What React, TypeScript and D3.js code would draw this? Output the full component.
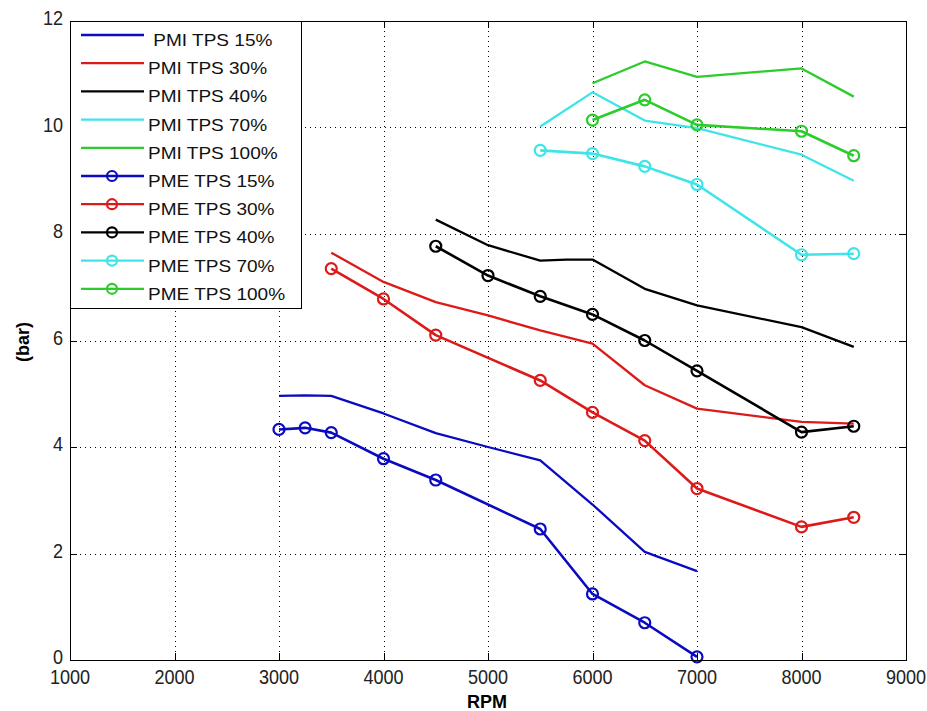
import { useEffect, useRef } from 'react';
import * as d3 from 'd3';

const W = 927;
const H = 711;

// PMI (indicated) curves, plain lines
const pmiRpm15 = [3000, 3250, 3500, 4000, 4500, 5000, 5500, 6000, 6500, 7000];
const pmi15 = [4.96, 4.97, 4.96, 4.63, 4.26, 4.0, 3.75, 2.92, 2.03, 1.67];
const pmiRpm30 = [3500, 4000, 4500, 5000, 5500, 6000, 6500, 7000, 8000, 8500];
const pmi30 = [7.65, 7.1, 6.72, 6.47, 6.19, 5.94, 5.16, 4.72, 4.47, 4.44];
const pmiRpm40 = [4500, 5000, 5500, 5750, 6000, 6500, 7000, 8000, 8500];
const pmi40 = [8.27, 7.79, 7.5, 7.52, 7.52, 6.97, 6.66, 6.25, 5.88];
const pmiRpm70 = [5500, 6000, 6500, 7000, 8000, 8500];
const pmi70 = [10.02, 10.66, 10.13, 9.99, 9.49, 9.0];
const pmiRpm100 = [6000, 6500, 7000, 8000, 8500];
const pmi100 = [10.83, 11.24, 10.95, 11.11, 10.58];

// PME (effective) curves, with circle markers
const pmeRpm15 = [3000, 3250, 3500, 4000, 4500, 5500, 6000, 6500, 7000];
const pme15 = [4.33, 4.36, 4.27, 3.78, 3.38, 2.46, 1.24, 0.7, 0.06];
const pmeRpm30 = [3500, 4000, 4500, 5500, 6000, 6500, 7000, 8000, 8500];
const pme30 = [7.35, 6.78, 6.1, 5.25, 4.65, 4.12, 3.22, 2.5, 2.68];
const pmeRpm40 = [4500, 5000, 5500, 6000, 6500, 7000, 8000, 8500];
const pme40 = [7.77, 7.22, 6.83, 6.49, 6.0, 5.43, 4.28, 4.39];
const pmeRpm70 = [5500, 6000, 6500, 7000, 8000, 8500];
const pme70 = [9.57, 9.51, 9.27, 8.93, 7.61, 7.63];
const pmeRpm100 = [6000, 6500, 7000, 8000, 8500];
const pme100 = [10.14, 10.52, 10.05, 9.93, 9.47];

const xTicks = [1000, 2000, 3000, 4000, 5000, 6000, 7000, 8000, 9000];
const yTicks = [0, 2, 4, 6, 8, 10, 12];

const colors = {
  blue: '#0a0ac0',
  red: '#dd1a1a',
  black: '#000000',
  cyan: '#3ee4e8',
  green: '#2ccc2c',
};

interface Series {
  name: string;
  rpm: number[];
  val: number[];
  color: string;
  marker: boolean;
}

const series: Series[] = [
  { name: ' PMI TPS 15%', rpm: pmiRpm15, val: pmi15, color: colors.blue, marker: false },
  { name: 'PMI TPS 30%', rpm: pmiRpm30, val: pmi30, color: colors.red, marker: false },
  { name: 'PMI TPS 40%', rpm: pmiRpm40, val: pmi40, color: colors.black, marker: false },
  { name: 'PMI TPS 70%', rpm: pmiRpm70, val: pmi70, color: colors.cyan, marker: false },
  { name: 'PMI TPS 100%', rpm: pmiRpm100, val: pmi100, color: colors.green, marker: false },
  { name: 'PME TPS 15%', rpm: pmeRpm15, val: pme15, color: colors.blue, marker: true },
  { name: 'PME TPS 30%', rpm: pmeRpm30, val: pme30, color: colors.red, marker: true },
  { name: 'PME TPS 40%', rpm: pmeRpm40, val: pme40, color: colors.black, marker: true },
  { name: 'PME TPS 70%', rpm: pmeRpm70, val: pme70, color: colors.cyan, marker: true },
  { name: 'PME TPS 100%', rpm: pmeRpm100, val: pme100, color: colors.green, marker: true },
];

const font = '"Liberation Sans", Arial, sans-serif';

export default function App() {
  const svgRef = useRef<SVGSVGElement>(null);

  useEffect(() => {
    if (!svgRef.current) return;
    const svg = d3.select(svgRef.current);
    svg.selectAll('*').remove();

    const left = 70, right = 906, top = 21, bottom = 660;

    const x = d3.scaleLinear().domain([1000, 9000]).range([left, right]);
    const y = d3.scaleLinear().domain([0, 12]).range([bottom, top]);

    svg.append('rect').attr('width', W).attr('height', H).attr('fill', '#fff');

    // grid
    const grid = svg.append('g').attr('stroke', '#000').attr('stroke-width', 1)
      .attr('stroke-dasharray', '1,4').attr('shape-rendering', 'crispEdges');
    xTicks.slice(1, -1).forEach(t => {
      grid.append('line').attr('x1', Math.round(x(t)) + 0.5).attr('x2', Math.round(x(t)) + 0.5)
        .attr('y1', top).attr('y2', bottom);
    });
    yTicks.slice(1, -1).forEach(t => {
      grid.append('line').attr('y1', Math.round(y(t)) + 0.5).attr('y2', Math.round(y(t)) + 0.5)
        .attr('x1', left).attr('x2', right);
    });

    // lines
    const line = d3.line<[number, number]>().x(d => x(d[0])).y(d => y(d[1]));
    const plot = svg.append('g');
    series.forEach(s => {
      const pts: [number, number][] = s.rpm.map((r, i) => [r, s.val[i]]);
      plot.append('path')
        .attr('d', line(pts) as string)
        .attr('fill', 'none')
        .attr('stroke', s.color)
        .attr('stroke-width', s.marker ? 2.6 : 2.3)
        .attr('stroke-linejoin', 'round');
      if (s.marker) {
        plot.selectAll(null)
          .data(pts)
          .join('circle')
          .attr('cx', d => x(d[0]))
          .attr('cy', d => y(d[1]))
          .attr('r', 5.5)
          .attr('fill', 'none')
          .attr('stroke', s.color)
          .attr('stroke-width', 2.2);
      }
    });

    // axes box
    const box = svg.append('g').attr('shape-rendering', 'crispEdges');
    box.append('rect')
      .attr('x', left + 0.5).attr('y', top + 0.5)
      .attr('width', right - left).attr('height', bottom - top)
      .attr('fill', 'none').attr('stroke', '#000').attr('stroke-width', 1.5);

    // tick marks
    xTicks.forEach(t => {
      const px = Math.round(x(t)) + 0.5;
      box.append('line').attr('x1', px).attr('x2', px).attr('y1', bottom).attr('y2', bottom - 7).attr('stroke', '#000');
      box.append('line').attr('x1', px).attr('x2', px).attr('y1', top).attr('y2', top + 7).attr('stroke', '#000');
    });
    yTicks.forEach(t => {
      const py = Math.round(y(t)) + 0.5;
      box.append('line').attr('y1', py).attr('y2', py).attr('x1', left).attr('x2', left + 7).attr('stroke', '#000');
      box.append('line').attr('y1', py).attr('y2', py).attr('x1', right).attr('x2', right - 7).attr('stroke', '#000');
    });

    // tick labels: tall, narrow digits
    svg.append('g').selectAll('text').data(xTicks).join('text')
      .attr('transform', d => 'translate(' + x(d) + ',' + 684 + ') scale(0.86,1)')
      .attr('text-anchor', 'middle')
      .attr('font-family', font).attr('font-size', 21).attr('fill', '#222')
      .text(d => String(d));
    svg.append('g').selectAll('text').data(yTicks).join('text')
      .attr('transform', d => 'translate(' + (left - 7) + ',' + (y(d) + 4) + ') scale(0.86,1)')
      .attr('text-anchor', 'end')
      .attr('font-family', font).attr('font-size', 21).attr('fill', '#222')
      .text(d => String(d));

    // axis titles
    svg.append('text')
      .attr('x', 487).attr('y', 708)
      .attr('text-anchor', 'middle')
      .attr('font-family', font).attr('font-size', 18).attr('font-weight', 'bold')
      .text('RPM');
    svg.append('text')
      .attr('transform', 'translate(29,342) rotate(-90)')
      .attr('text-anchor', 'middle')
      .attr('font-family', font).attr('font-size', 18).attr('font-weight', 'bold')
      .text('(bar)');

    // legend
    const lg = svg.append('g');
    const lgX = 70, lgY = 21, lgW = 231, lgH = 287;
    lg.append('rect')
      .attr('x', lgX + 0.5).attr('y', lgY + 0.5).attr('width', lgW).attr('height', lgH)
      .attr('fill', '#fff').attr('stroke', '#000').attr('stroke-width', 1.2)
      .attr('shape-rendering', 'crispEdges');
    const rowH = 28.2;
    series.forEach((s, i) => {
      const cy = lgY + 14 + i * rowH;
      lg.append('line')
        .attr('x1', lgX + 11).attr('x2', lgX + 74).attr('y1', cy).attr('y2', cy)
        .attr('stroke', s.color).attr('stroke-width', 2.3);
      if (s.marker) {
        lg.append('circle').attr('cx', lgX + 42).attr('cy', cy).attr('r', 5)
          .attr('fill', 'none').attr('stroke', s.color).attr('stroke-width', 2.2);
      }
      lg.append('text')
        .attr('transform', 'translate(' + (lgX + 78) + ',' + (cy + 11) + ') scale(1.12,1)')
        .attr('font-family', font).attr('font-size', 17).attr('fill', '#111')
        .attr('xml:space', 'preserve')
        .style('white-space', 'pre')
        .text(s.name);
    });
  }, []);

  return (
    <svg
      ref={svgRef}
      width={W}
      height={H}
      style={{ position: 'absolute', left: 0, top: 0, display: 'block' }}
    />
  );
}
